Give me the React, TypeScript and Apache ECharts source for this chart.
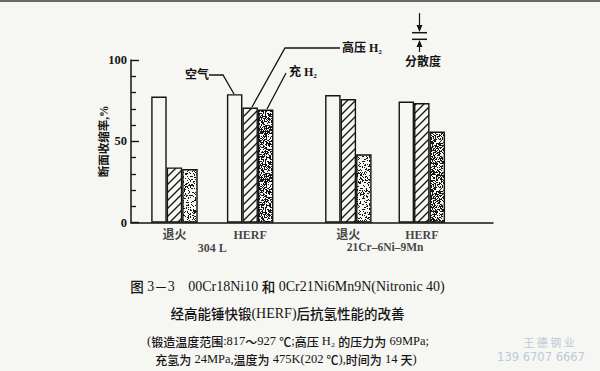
import React, { useEffect, useRef } from "react";
import * as echarts from "echarts";

// ---- data ----
const groupLabels = ["退火", "HERF", "退火", "HERF"];
const groupPos = [0.58, 1.59, 2.9, 3.88];
const X_MAX = 4.83;
const alloyLabels = ["304 L", "21Cr–6Ni–9Mn"];
const seriesNames = ["空气", "高压 H₂", "充 H₂"];
const airValues = [77.5, 79, 78.5, 74.5];
const highPressureH2Values = [34, 70.8, 76, 73.5];
const chargedH2Values = [33, 69.5, 42, 56];
const yTickValues = [0, 50, 100];
const yAxisName = "断面收缩率,%";
const captionLines = [
  "图 3－3　00Cr18Ni10 和 0Cr21Ni6Mn9N(Nitronic 40)",
  "经高能锤快锻(HERF)后抗氢性能的改善",
  "(锻造温度范围:817～927 ℃;高压 H₂ 的压力为 69MPa;",
  "充氢为 24MPa,温度为 475K(202 ℃),时间为 14 天)",
];
const watermarkLines = ["王 德 钢 业", "139 6707 6667"];
const dispersionLabel = "分散度";

// ---- style ----
const BG = "#f6f6f3";
const INK = "#141414";
const SERIF = "'Liberation Serif', 'Noto Sans CJK SC', serif";
const CJK = "'Noto Sans CJK SC', sans-serif";
const LATIN = "'Liberation Serif', serif";

const CJK_RE = /[\u2103\u2E80-\u9FFF\u3000-\u303F\uFF00-\uFFEF]/;
const RUN_RE = /[\u2103\u2E80-\u9FFF\u3000-\u303F\uFF00-\uFFEF]+|[^\u2103\u2E80-\u9FFF\u3000-\u303F\uFF00-\uFFEF]+/g;

function richify(s: string): string {
  const parts = s.match(RUN_RE) || [];
  return parts.map((p) => (CJK_RE.test(p) ? `{c|${p}}` : `{l|${p}}`)).join("");
}

function lcg(seed: number) {
  let s = seed >>> 0;
  return () => {
    s = (s * 1664525 + 1013904223) >>> 0;
    return s / 4294967296;
  };
}

function makeHatch(): HTMLCanvasElement {
  const c = document.createElement("canvas");
  c.width = 8;
  c.height = 8;
  const g = c.getContext("2d")!;
  g.fillStyle = BG;
  g.fillRect(0, 0, 8, 8);
  g.strokeStyle = INK;
  g.lineWidth = 1.3;
  g.beginPath();
  g.moveTo(-2, 10);
  g.lineTo(10, -2);
  g.moveTo(-2, 2);
  g.lineTo(2, -2);
  g.moveTo(6, 10);
  g.lineTo(10, 6);
  g.stroke();
  return c;
}

function makeStipple(p: number, seed: number): HTMLCanvasElement {
  const n = 48;
  const c = document.createElement("canvas");
  c.width = n;
  c.height = n;
  const g = c.getContext("2d")!;
  g.fillStyle = BG;
  g.fillRect(0, 0, n, n);
  const r = lcg(seed);
  g.fillStyle = INK;
  for (let y = 0; y < n; y++) {
    for (let x = 0; x < n; x++) {
      if (r() < p) g.fillRect(x, y, 1, 1);
    }
  }
  return c;
}

function captionText(x: number, y: number, text: string, size: number) {
  return {
    type: "text",
    x,
    y,
    style: {
      text: richify(text),
      align: "center",
      verticalAlign: "middle",
      rich: {
        c: { fontFamily: CJK, fontSize: size, fill: INK, fontWeight: 500 },
        l: { fontFamily: LATIN, fontSize: size + 0.5, fill: INK },
      },
    },
  };
}

export default function App() {
  const ref = useRef<HTMLDivElement>(null);
  useEffect(() => {
    const chart = echarts.init(ref.current!, null, { renderer: "svg" });
    const hatch = makeHatch();
    const dense = makeStipple(0.5, 7);
    const light = makeStipple(0.28, 11);
    const pat = (c: HTMLCanvasElement) => ({
      image: c,
      repeat: "repeat",
      imageWidth: c.width,
      imageHeight: c.height,
    });

    const barBase = {
      type: "bar",
      barWidth: 15.5,
      barGap: "0%",
      silent: true,
    };

    const labelData: any[] = [];
    groupLabels.forEach((g, i) => {
      labelData.push({
        value: [groupPos[i], 0],
        label: { formatter: g, distance: 6 },
      });
    });
    alloyLabels.forEach((a, k) => {
      labelData.push({
        value: [(groupPos[2 * k] + groupPos[2 * k + 1]) / 2, 0],
        label: { formatter: a, distance: 19, fontSize: k === 1 ? 11.5 : 12 },
      });
    });

    const option: any = {
      animation: false,
      backgroundColor: BG,
      grid: { left: 131, right: 107, top: 60, bottom: 148.3 },
      xAxis: {
        type: "value",
        min: 0,
        max: X_MAX,
        axisLine: { show: true, onZero: true, lineStyle: { color: INK, width: 1.5 } },
        axisTick: { show: false },
        axisLabel: { show: false },
        splitLine: { show: false },
      },
      yAxis: {
        type: "value",
        min: yTickValues[0],
        max: yTickValues[yTickValues.length - 1],
        interval: yTickValues[1] - yTickValues[0],
        name: yAxisName,
        nameLocation: "middle",
        nameGap: 21,
        nameMoveOverlap: false,
        nameRotate: 90,
        nameTextStyle: { fontFamily: SERIF, fontSize: 11.5, fontWeight: "bold", color: INK },
        axisLine: { show: true, lineStyle: { color: INK, width: 1.5 } },
        axisTick: { show: true, inside: true, length: 8, lineStyle: { color: INK, width: 1.4 } },
        minorTick: { show: true, splitNumber: 5, length: 5, lineStyle: { color: INK, width: 1.3 } },
        axisLabel: { margin: 4, fontFamily: SERIF, fontSize: 12.5, fontWeight: "bold", color: INK },
        splitLine: { show: false },
      },
      series: [
        {
          ...barBase,
          name: seriesNames[0],
          data: groupPos.map((x, i) => [x, airValues[i]]),
          itemStyle: { color: BG, borderColor: INK, borderWidth: 1.4 },
        },
        {
          ...barBase,
          name: seriesNames[1],
          data: groupPos.map((x, i) => [x, highPressureH2Values[i]]),
          itemStyle: { color: pat(hatch), borderColor: INK, borderWidth: 1.4 },
        },
        {
          ...barBase,
          name: seriesNames[2],
          data: groupPos.map((x, i) => ({
            value: [x, chargedH2Values[i]],
            itemStyle: { color: pat(i % 2 === 1 ? dense : light) },
          })),
          itemStyle: { borderColor: INK, borderWidth: 1.4 },
        },
        {
          type: "scatter",
          symbolSize: 0,
          silent: true,
          clip: false,
          data: labelData,
          label: {
            show: true,
            position: "bottom",
            fontFamily: SERIF,
            fontSize: 12,
            fontWeight: "bold",
            color: INK,
          },
        },
      ],
      graphic: [
        { type: "rect", shape: { x: 0, y: 0, width: 600, height: 2 }, style: { fill: "#6a6a6a" }, silent: true },
        // leader lines
        { type: "polyline", shape: { points: [[209, 75], [223, 75], [234, 94]] }, style: { stroke: INK, lineWidth: 1.3, fill: null } },
        { type: "polyline", shape: { points: [[252, 107], [285, 48], [340, 48]] }, style: { stroke: INK, lineWidth: 1.3, fill: null } },
        { type: "polyline", shape: { points: [[267, 109], [286, 73]] }, style: { stroke: INK, lineWidth: 1.3, fill: null } },
        { type: "text", x: 185, y: 75, style: { text: seriesNames[0], font: `bold 12px ${SERIF}`, fill: INK, verticalAlign: "middle" } },
        { type: "text", x: 342, y: 48, style: { text: seriesNames[1], font: `bold 12px ${SERIF}`, fill: INK, verticalAlign: "middle" } },
        { type: "text", x: 289, y: 72, style: { text: seriesNames[2], font: `bold 12px ${SERIF}`, fill: INK, verticalAlign: "middle" } },
        // dispersion legend
        { type: "line", shape: { x1: 412, y1: 32.7, x2: 427, y2: 32.7 }, style: { stroke: INK, lineWidth: 1.5 } },
        { type: "line", shape: { x1: 412, y1: 39.3, x2: 427, y2: 39.3 }, style: { stroke: INK, lineWidth: 1.5 } },
        { type: "line", shape: { x1: 419.5, y1: 13, x2: 419.5, y2: 28 }, style: { stroke: INK, lineWidth: 1.2 } },
        { type: "line", shape: { x1: 419.5, y1: 44, x2: 419.5, y2: 52 }, style: { stroke: INK, lineWidth: 1.2 } },
        { type: "polygon", shape: { points: [[416.5, 25], [422.5, 25], [419.5, 32]] }, style: { fill: INK } },
        { type: "polygon", shape: { points: [[416.5, 47], [422.5, 47], [419.5, 40]] }, style: { fill: INK } },
        { type: "text", x: 423, y: 62, style: { text: dispersionLabel, font: `bold 12px ${SERIF}`, fill: INK, align: "center", verticalAlign: "middle" } },
        // caption
        captionText(287.5, 286, captionLines[0], 13.5),
        captionText(287.5, 313, captionLines[1], 13.5),
        captionText(288, 341, captionLines[2], 12),
        captionText(286, 359, captionLines[3], 12),
        // watermark
        { type: "text", x: 549, y: 342, style: { text: watermarkLines[0], font: `11px 'Noto Sans CJK SC', sans-serif`, fill: "#bccad8", align: "center", verticalAlign: "middle" } },
        { type: "text", x: 541, y: 357, style: { text: watermarkLines[1], font: `11.5px 'DejaVu Sans', sans-serif`, fill: "#bccad8", align: "center", verticalAlign: "middle" } },
      ],
    };
    chart.setOption(option);
    return () => chart.dispose();
  }, []);
  return (
    <div
      ref={ref}
      style={{ position: "fixed", left: 0, top: 0, width: 600, height: 371 }}
    />
  );
}
